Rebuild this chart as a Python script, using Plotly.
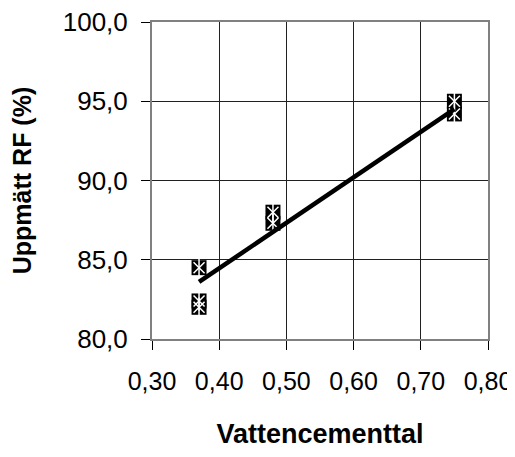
import plotly.graph_objects as go

# measured values
vct = [0.37, 0.37, 0.37, 0.48, 0.48, 0.75, 0.75]
rf = [84.5, 82.4, 82.0, 88.0, 87.3, 95.0, 94.2]

# trend line
trend_x = [0.37, 0.75]
trend_y = [83.6, 94.5]

x_ticks = [0.30, 0.40, 0.50, 0.60, 0.70, 0.80]
y_ticks = [80, 85, 90, 95, 100]

fig = go.Figure()

# black square background of each marker
fig.add_trace(go.Scatter(
    x=vct, y=rf, mode='markers',
    marker=dict(symbol='square', size=15, color='black'),
    hoverinfo='skip', showlegend=False))
# white star drawn on top
fig.add_trace(go.Scatter(
    x=vct, y=rf, mode='markers',
    marker=dict(symbol='x-thin-open', size=11, color='white',
                line=dict(color='white', width=1.5)),
    showlegend=False))
fig.add_trace(go.Scatter(
    x=vct, y=rf, mode='markers',
    marker=dict(symbol='line-ns-open', size=14, color='white',
                line=dict(color='white', width=1.5)),
    showlegend=False))

fig.add_trace(go.Scatter(
    x=trend_x, y=trend_y, mode='lines',
    line=dict(color='black', width=4.5),
    showlegend=False))

font = "Liberation Sans, Arial, sans-serif"

# page body has an 8px margin, so the figure is shifted by 8px
fig.update_layout(
    width=507, height=441,
    margin=dict(l=144, r=27, t=14, b=110, autoexpand=False),
    paper_bgcolor='white', plot_bgcolor='white',
    separators=', ',
    font=dict(family=font, size=26, color='black'),
    showlegend=False,
)
fig.update_xaxes(
    range=[0.30, 0.80], tickvals=x_ticks, tickformat='.2f',
    showgrid=True, gridcolor='#202020', gridwidth=1,
    showline=True, linecolor='#808080', linewidth=2, mirror=True,
    ticks='outside', ticklen=9, tickcolor='black', tickwidth=1,
    tickfont=dict(size=25),
    ticklabelstandoff=10, ticklabeloverflow='allow', automargin=False,
    zeroline=False,
    title=dict(text='<b>Vattencementtal</b>', font=dict(size=27), standoff=44),
)
fig.update_yaxes(
    range=[80, 100], tickvals=y_ticks, tickformat='.1f',
    showgrid=True, gridcolor='#202020', gridwidth=1,
    showline=True, linecolor='#808080', linewidth=2, mirror=True,
    ticks='outside', ticklen=9, tickcolor='black', tickwidth=1,
    ticklabelstandoff=8, ticklabeloverflow='allow', automargin=False,
    zeroline=False,
    title=dict(text='<b>Uppmätt RF (%)</b>', font=dict(size=25), standoff=45),
)

fig.write_html("out.html")
